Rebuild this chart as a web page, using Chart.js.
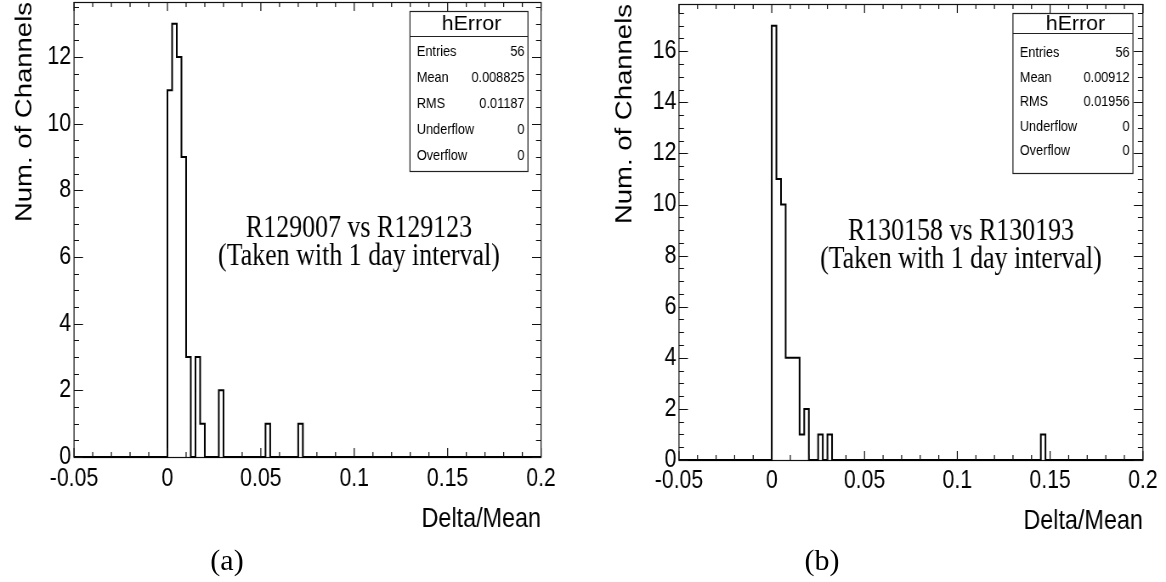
<!DOCTYPE html>
<html><head><meta charset="utf-8">
<script src="https://cdn.jsdelivr.net/npm/chart.js@4.4.1/dist/chart.umd.min.js"></script>
<style>
html,body{margin:0;padding:0;background:#fff;width:1166px;height:582px;overflow:hidden}
#wrap{position:relative;width:1166px;height:582px}
canvas{position:absolute;top:0}
.cap{position:absolute;width:120px;text-align:center;font-family:'Liberation Serif','Times New Roman',serif;font-size:30px;line-height:30px;top:545px;color:#000}
</style></head><body>
<div id="wrap">
<canvas id="cA" width="686" height="582" style="left:0;width:583px;height:582px"></canvas>
<canvas id="cB" width="686" height="582" style="left:583px;width:583px;height:582px"></canvas>
<div class="cap" style="left:167px">(a)</div>
<div class="cap" style="left:762px">(b)</div>
</div>
<script>
// ---------------- data ----------------
const xRange = [-0.05, 0.2];
const binWidth = 0.0025;
const xTickValues = [-0.05, 0, 0.05, 0.1, 0.15, 0.2];
const xTickLabels = ['-0.05', '0', '0.05', '0.1', '0.15', '0.2'];
const xMinorStep = 0.01;
const yMinorStep = 0.5;

// (a) R129007 vs R129123 : lower edges of non-empty bins and their contents
const binLowA = [0, 0.0025, 0.005, 0.0075, 0.01, 0.015, 0.0175, 0.0275, 0.0525, 0.07];
const countsA = [11, 13, 12, 9, 3, 3, 1, 2, 1, 1];
const yMaxA = 13.65;
const yTickValuesA = [0, 2, 4, 6, 8, 10, 12];
const yTickLabelsA = ['0', '2', '4', '6', '8', '10', '12'];

// (b) R130158 vs R130193
const binLowB = [0, 0.0025, 0.005, 0.0075, 0.01, 0.0125, 0.015, 0.0175, 0.025, 0.03, 0.145];
const countsB = [17, 11, 10, 4, 4, 4, 1, 2, 1, 1, 1];
const yMaxB = 17.85;
const yTickValuesB = [0, 2, 4, 6, 8, 10, 12, 14, 16];
const yTickLabelsB = ['0', '2', '4', '6', '8', '10', '12', '14', '16'];

const statsTitle = 'hError';
const statsLabels = ['Entries', 'Mean', 'RMS', 'Underflow', 'Overflow'];
const statsValuesA = ['56', '0.008825', '0.01187', '0', '0'];
const statsValuesB = ['56', '0.00912', '0.01956', '0', '0'];
const noteA = ['R129007 vs R129123', '(Taken with 1 day interval)'];
const noteB = ['R130158 vs R130193', '(Taken with 1 day interval)'];
const xTitle = 'Delta/Mean';
const yTitle = 'Num. of Channels';

// ---------------- layout / style ----------------
const SANS = "'Liberation Sans', Arial, Helvetica, sans-serif";
const SERIF = "'Liberation Serif', 'Times New Roman', serif";
const CW = 686, CH = 582;
const layA = {left: 87.1, right: 636.6, top: 2, bottom: 457, xLabelPad: 7.5, xTitlePad: 46, yLabelPad: 3.5, yTitlePad: 13.2,
  box: {x: 482.4, y: 11, w: 138.8, h: 160, head: 25, rowFirst: 16, rowStep: 26},
  note: {x: 422.4, y: [237, 265]}};
const layB = {left: 112.9, right: 658.8, top: 4, bottom: 460, xLabelPad: 6, xTitlePad: 44, yLabelPad: 3, yTitlePad: 33.2,
  box: {x: 505.9, y: 13, w: 141.2, h: 160, head: 20, rowFirst: 20, rowStep: 24.5},
  note: {x: 444.7, y: [240, 268]}};

function stepPoints(lows, counts) {
  const pts = [{x: xRange[0], y: 0}];
  for (let i = 0; i < lows.length; i++) {
    pts.push({x: lows[i], y: counts[i]});
    const end = lows[i] + binWidth;
    const next = lows[i + 1];
    if (next === undefined || Math.abs(next - end) > 1e-9) pts.push({x: end, y: 0});
  }
  pts.push({x: xRange[1], y: 0});
  return pts;
}

const rootStyle = {
  id: 'rootStyle',
  beforeDatasetsDraw(chart, args, o) {
    const {ctx, chartArea: a} = chart;
    ctx.save();
    ctx.strokeStyle = '#111';
    ctx.lineWidth = 1.2;
    ctx.strokeRect(a.left, a.top + 0.5, a.right - a.left, a.bottom - a.top);
    ctx.restore();
  },
  afterDatasetsDraw(chart, args, o) {
    const {ctx, chartArea: a, scales: {x, y}} = chart;
    ctx.save();
    ctx.strokeStyle = '#111';
    ctx.lineWidth = 1.2;
    ctx.beginPath();
    const nx = Math.round((xRange[1] - xRange[0]) / xMinorStep);
    for (let i = 0; i <= nx; i++) {
      const v = xRange[0] + i * xMinorStep;
      const px = x.getPixelForValue(v);
      const major = xTickValues.some(t => Math.abs(t - v) < 1e-9);
      const L = major ? 9 : 5;
      ctx.moveTo(px, a.bottom); ctx.lineTo(px, a.bottom - L);
      ctx.moveTo(px, a.top); ctx.lineTo(px, a.top + L);
    }
    ctx.stroke();
    ctx.lineWidth = 1;
    ctx.beginPath();
    const ny = Math.floor(o.yMax / yMinorStep + 1e-9);
    for (let i = 0; i <= ny; i++) {
      const v = i * yMinorStep;
      const py = Math.round(y.getPixelForValue(v)) + 0.5;
      const major = o.yMajor.some(t => Math.abs(t - v) < 1e-9);
      const L = major ? 10.6 : 5.9;
      ctx.moveTo(a.left, py); ctx.lineTo(a.left + L, py);
      ctx.moveTo(a.right, py); ctx.lineTo(a.right - L, py);
    }
    ctx.stroke();
    ctx.restore();
  },
  afterDraw(chart, args, o) {
    const {ctx} = chart;
    const b = o.lay.box;
    ctx.save();
    // stats box
    ctx.fillStyle = '#fff';
    ctx.fillRect(b.x, b.y, b.w, b.h);
    ctx.strokeStyle = '#222';
    ctx.lineWidth = 1.2;
    ctx.strokeRect(b.x, b.y + 0.5, b.w, b.h);
    ctx.beginPath();
    ctx.moveTo(b.x, b.y + b.head + 0.5); ctx.lineTo(b.x + b.w, b.y + b.head + 0.5);
    ctx.stroke();
    ctx.fillStyle = '#000';
    ctx.font = '21px ' + SANS;
    ctx.textBaseline = 'middle';
    ctx.textAlign = 'center';
    const tw = ctx.measureText(statsTitle).width;
    const sx = 70 / tw;
    ctx.save();
    ctx.translate(b.x + b.w / 2 + 3, b.y + b.head / 2 + 1);
    ctx.scale(sx, 1);
    ctx.fillText(statsTitle, 0, 0);
    ctx.restore();
    ctx.font = '15px ' + SANS;
    for (let i = 0; i < statsLabels.length; i++) {
      const cy = b.y + b.head + b.rowFirst + i * b.rowStep;
      ctx.textAlign = 'left';
      ctx.fillText(statsLabels[i], b.x + 8, cy);
      ctx.textAlign = 'right';
      ctx.fillText(o.stats[i], b.x + b.w - 4, cy);
    }
    // annotation
    ctx.font = '30.5px ' + SERIF;
    ctx.textAlign = 'center';
    ctx.textBaseline = 'alphabetic';
    o.note.forEach((t, i) => ctx.fillText(t, o.lay.note.x, o.lay.note.y[i]));
    ctx.restore();
  }
};

function makeChart(id, lows, counts, yMax, yTickValues, yTickLabels, stats, note, lay) {
  return new Chart(document.getElementById(id), {
    type: 'line',
    data: {datasets: [{
      data: stepPoints(lows, counts),
      stepped: true,
      borderColor: '#000',
      borderWidth: 2,
      pointRadius: 0,
      fill: false,
      clip: false
    }]},
    plugins: [rootStyle],
    options: {
      responsive: false,
      animation: false,
      devicePixelRatio: 1,
      events: [],
      layout: {padding: {left: 0, top: lay.top, right: CW - lay.right, bottom: 0}},
      plugins: {
        legend: {display: false},
        tooltip: {enabled: false},
        rootStyle: {lay, yMax, yMajor: yTickValues, stats, note}
      },
      scales: {
        x: {
          type: 'linear', min: xRange[0], max: xRange[1],
          grid: {display: false, drawTicks: false},
          border: {display: false},
          afterBuildTicks: s => { s.ticks = xTickValues.map(v => ({value: v})); },
          afterFit: s => { s.height = CH - lay.bottom; s.paddingLeft = 0; s.paddingRight = 0; },
          ticks: {
            callback: (v, i) => xTickLabels[i],
            autoSkip: false, maxRotation: 0, minRotation: 0,
            color: '#000', padding: lay.xLabelPad,
            font: {family: SANS, size: 25, lineHeight: 1.2}
          },
          title: {
            display: true, text: xTitle, align: 'end', color: '#000',
            font: {family: SANS, size: 27.5, lineHeight: 1.2},
            padding: {top: 0, bottom: lay.xTitlePad}
          }
        },
        y: {
          type: 'linear', min: 0, max: yMax,
          grid: {display: false, drawTicks: false},
          border: {display: false},
          afterBuildTicks: s => { s.ticks = yTickValues.map(v => ({value: v})); },
          afterFit: s => { s.width = lay.left; s.paddingTop = 0; s.paddingBottom = 0; },
          ticks: {
            callback: (v, i) => yTickLabels[i],
            autoSkip: false,
            color: '#000', padding: lay.yLabelPad,
            font: {family: SANS, size: 25, lineHeight: 1.2}
          },
          title: {
            display: true, text: yTitle, align: 'end', color: '#000',
            font: {family: SANS, size: 27.5, lineHeight: 1.2},
            padding: {top: lay.yTitlePad, bottom: 0}
          }
        }
      }
    }
  });
}

makeChart('cA', binLowA, countsA, yMaxA, yTickValuesA, yTickLabelsA, statsValuesA, noteA, layA);
makeChart('cB', binLowB, countsB, yMaxB, yTickValuesB, yTickLabelsB, statsValuesB, noteB, layB);
</script>
</body></html>
